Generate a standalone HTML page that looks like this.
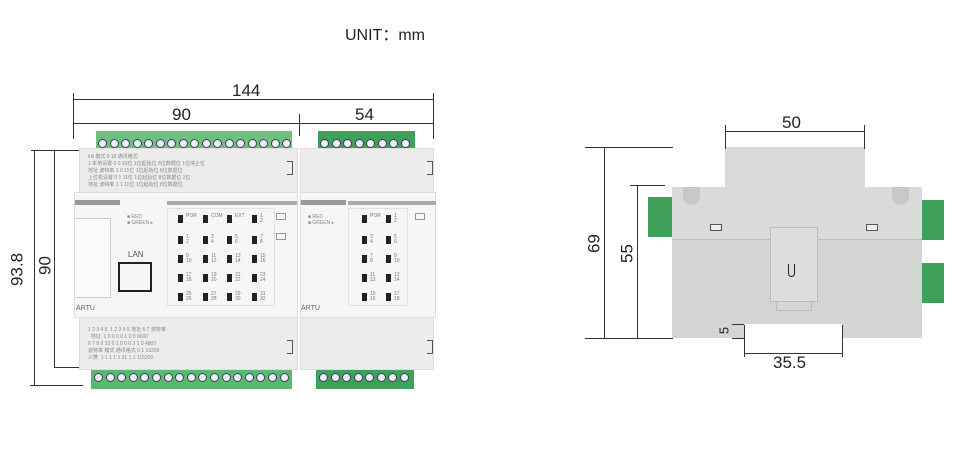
<!DOCTYPE html>
<html><head><meta charset="utf-8"><style>
*{margin:0;padding:0;box-sizing:border-box}
body{width:959px;height:451px;background:#fff;position:relative;overflow:hidden;font-family:"Liberation Sans",sans-serif}
.a{position:absolute}
.l{position:absolute;background:#333}
.t{position:absolute;font-size:17px;color:#222;line-height:1}
.rot{transform:rotate(-90deg);transform-origin:center}
.scr{position:absolute;width:9px;height:9px;border-radius:50%;background:#eef;border:1px solid #345}
.led{position:absolute;width:5px;height:8px;background:#222}
.sm{position:absolute;font-size:5px;color:#888}
.ln{position:absolute;font-size:5px;color:#777;line-height:5px}
</style></head><body>
<div class="t" style="left:345px;top:28px;font-size:16px">UNIT：mm</div>

<div class="l" style="left:73px;top:99px;width:361px;height:1px"></div>
<div class="l" style="left:73px;top:123px;width:361px;height:1px"></div>
<div class="l" style="left:73px;top:93px;width:1px;height:46px"></div>
<div class="l" style="left:433px;top:93px;width:1px;height:46px"></div>
<div class="l" style="left:299px;top:114px;width:1px;height:22px"></div>
<div class="t" style="left:232px;top:82px">144</div>
<div class="t" style="left:172px;top:106px">90</div>
<div class="t" style="left:355px;top:106px">54</div>
<div class="l" style="left:31px;top:150px;width:52px;height:1px"></div>
<div class="l" style="left:34px;top:150px;width:1px;height:236px"></div>
<div class="l" style="left:54px;top:150px;width:1px;height:218px"></div>
<div class="l" style="left:54px;top:367px;width:25px;height:1px"></div>
<div class="l" style="left:30px;top:385px;width:53px;height:1px"></div>
<div class="t rot" style="left:0px;top:261px;width:34px;text-align:center">93.8</div>
<div class="t rot" style="left:34px;top:257px;width:22px;text-align:center">90</div>

<div class="a" style="left:96px;top:131px;width:196px;height:19px;background:#6fbf7f"></div>
<div class="a" style="left:318px;top:131px;width:97px;height:19px;background:#3fa05a"></div>
<div class="a" style="left:91px;top:368px;width:201px;height:21px;background:#5cb86e"></div>
<div class="a" style="left:316px;top:368px;width:98px;height:21px;background:#3fa05a"></div>
<div id="scr"></div>

<div class="a" style="left:79px;top:148px;width:219px;height:222px;background:#ececec;border:1px solid #ddd"></div>
<div class="a" style="left:300px;top:148px;width:134px;height:222px;background:#ececec;border:1px solid #ddd"></div>
<div class="a" style="left:74px;top:192px;width:224px;height:126px;background:#f6f6f6;border:1px solid #ddd"></div>
<div class="a" style="left:300px;top:192px;width:136px;height:126px;background:#f6f6f6;border:1px solid #ddd"></div>
<div class="a" style="left:167px;top:201px;width:130px;height:4px;background:#aaa"></div>
<div class="a" style="left:348px;top:201px;width:88px;height:4px;background:#aaa"></div>
<div class="a" style="left:75px;top:200px;width:45px;height:5px;background:#999"></div>
<div class="a" style="left:301px;top:200px;width:45px;height:5px;background:#999"></div>
<div class="a" style="left:167px;top:208px;width:108px;height:98px;border:1px solid #e2e2e2"></div>
<div class="a" style="left:348px;top:208px;width:60px;height:98px;border:1px solid #e2e2e2"></div>
<div class="a" style="left:75px;top:218px;width:36px;height:80px;background:#fafafa;border:1px solid #ccc;border-left:none"></div>
<div class="sm" style="left:128px;top:250px;font-size:8px;color:#555">LAN</div>
<div class="a" style="left:118px;top:262px;width:34px;height:30px;border:2px solid #222"></div>
<div class="sm" style="left:76px;top:305px;font-size:7px;color:#666">ARTU</div>
<div class="sm" style="left:301px;top:305px;font-size:7px;color:#666">ARTU</div>
<div class="sm" style="left:127px;top:214px">■ RED<br>■ GREEN ▸</div>
<div class="sm" style="left:308px;top:214px">■ RED<br>■ GREEN ▸</div>
<div class="a" style="left:276px;top:213px;width:10px;height:7px;border:1px solid #999"></div>
<div class="a" style="left:276px;top:233px;width:10px;height:7px;border:1px solid #999"></div>
<div class="a" style="left:415px;top:213px;width:10px;height:7px;border:1px solid #999"></div>
<div class="sm" style="left:88px;top:154px;line-height:7px">ⅡⅢ 模式 9 10 通讯格式<br>1 本地设置 0 0 10位 1位起始位 8位数据位 1位停止位<br>地址 波特率 1 0 11位 1位起始位 8位数据位<br>上位机设置 0 1 11位 1位起始位 8位数据位 1位<br>地址 波特率 1 1 11位 1位起始位 8位数据位</div>
<div class="sm" style="left:88px;top:327px;line-height:7px">1 2 3 4 5 &nbsp;1 2 3 4 5 地址 6 7 波特率<br>&nbsp; 地址 &nbsp;1 0 0 0 0 1 0 0 9600<br>6 7 8 9 10 0 1 0 0 0 2 1 0 4800<br>波特率 模式 通讯格式 0 1 19200<br>三菱 &nbsp;1 1 1 1 1 31 1 1 115200</div>
<div class="a" style="left:287px;top:161px;width:6px;height:14px;border:1.5px solid #555;border-left:none"></div>
<div class="a" style="left:427px;top:161px;width:6px;height:14px;border:1.5px solid #555;border-left:none"></div>
<div class="a" style="left:287px;top:340px;width:6px;height:14px;border:1.5px solid #555;border-left:none"></div>
<div class="a" style="left:427px;top:340px;width:6px;height:14px;border:1.5px solid #555;border-left:none"></div>
<div id="leds"></div>

<div class="a" style="left:648px;top:197px;width:24px;height:40px;background:#3fa05a"></div>
<div class="a" style="left:920px;top:200px;width:24px;height:40px;background:#3fa05a"></div>
<div class="a" style="left:920px;top:263px;width:24px;height:40px;background:#3fa05a"></div>
<div class="a" style="left:725px;top:147px;width:140px;height:45px;background:#d8dbd8"></div>
<div class="a" style="left:672px;top:187px;width:250px;height:52px;background:#d8dbd8"></div>
<div class="a" style="left:672px;top:239px;width:250px;height:85px;background:#d2d5d2;border-top:1px solid #bbb"></div>
<div class="a" style="left:672px;top:324px;width:72px;height:14px;background:#d2d5d2"></div>
<div class="a" style="left:842px;top:324px;width:80px;height:14px;background:#d2d5d2"></div>
<div class="a" style="left:683px;top:187px;width:17px;height:18px;background:#c6c9c6;border-radius:0 0 8px 8px"></div>
<div class="a" style="left:892px;top:187px;width:17px;height:18px;background:#c6c9c6;border-radius:0 0 8px 8px"></div>
<div class="a" style="left:710px;top:224px;width:12px;height:7px;border:1px solid #555;background:#eee"></div>
<div class="a" style="left:866px;top:224px;width:12px;height:7px;border:1px solid #555;background:#eee"></div>
<div class="a" style="left:770px;top:227px;width:48px;height:75px;background:#dcdedc;border:1px solid #bbb"></div>
<div class="a" style="left:776px;top:301px;width:36px;height:10px;background:#d5d7d5;border:1px solid #bbb"></div>
<div class="a" style="left:788px;top:264px;width:7px;height:13px;border:1.5px solid #222;border-top:none;border-radius:0 0 4px 4px"></div>

<div class="l" style="left:725px;top:131px;width:140px;height:1px"></div>
<div class="l" style="left:725px;top:125px;width:1px;height:24px"></div>
<div class="l" style="left:864px;top:125px;width:1px;height:24px"></div>
<div class="t" style="left:782px;top:114px">50</div>
<div class="l" style="left:585px;top:147px;width:88px;height:1px"></div>
<div class="l" style="left:630px;top:185px;width:35px;height:1px"></div>
<div class="l" style="left:585px;top:338px;width:88px;height:1px"></div>
<div class="l" style="left:604px;top:147px;width:1px;height:191px"></div>
<div class="l" style="left:637px;top:185px;width:1px;height:153px"></div>
<div class="t rot" style="left:582px;top:235px;width:24px;text-align:center">69</div>
<div class="t rot" style="left:615px;top:245px;width:24px;text-align:center">55</div>
<div class="l" style="left:744px;top:353px;width:98px;height:1px"></div>
<div class="l" style="left:744px;top:325px;width:1px;height:32px"></div>
<div class="l" style="left:842px;top:325px;width:1px;height:32px"></div>
<div class="t" style="left:773px;top:354px">35.5</div>
<div class="t rot" style="left:717px;top:324px;width:14px;font-size:13px;text-align:center">5</div>
<div class="l" style="left:732px;top:324px;width:12px;height:1px"></div>
<div class="l" style="left:732px;top:338px;width:12px;height:1px"></div>

<script>
var s='';
function scr(x0,y,n,sp){for(var i=0;i<n;i++)s+='<div class="scr" style="left:'+(x0+i*sp)+'px;top:'+y+'px"></div>';}
scr(98,139,17,11.5);scr(320,139,8,11.5);scr(94,373,17,11.6);scr(319,373,8,11.5);
document.getElementById('scr').innerHTML=s;
var h='';var rows=[215,236,255,274,293];
var n=1;
rows.forEach(function(y,r){[178,203,227,252].forEach(function(x,c){h+='<div class="led" style="left:'+x+'px;top:'+y+'px"></div>';
 var lab=(r==0)?['POR','COM','EXT','1<br>2'][c]:(n)+'<br>'+(n+1);if(r>0)n+=2;
 h+='<div class="ln" style="left:'+(x+8)+'px;top:'+(y-1)+'px">'+lab+'</div>';});});
n=3;
rows.forEach(function(y,r){[362,386].forEach(function(x,c){h+='<div class="led" style="left:'+x+'px;top:'+y+'px"></div>';
 var lab=(r==0)?['POR','1<br>2'][c]:(n)+'<br>'+(n+1);if(r>0)n+=2;
 h+='<div class="ln" style="left:'+(x+8)+'px;top:'+(y-1)+'px">'+lab+'</div>';});});
document.getElementById('leds').innerHTML=h;
</script>
</body></html>
